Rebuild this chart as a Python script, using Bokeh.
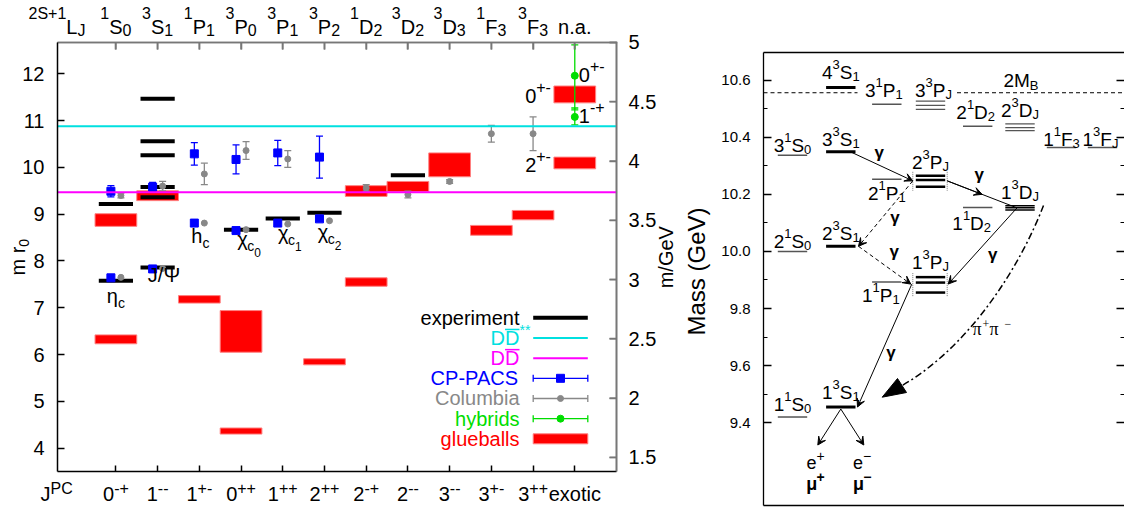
import math
from bokeh.plotting import figure
from bokeh.models import (Range1d, LinearAxis, FixedTicker, ColumnDataSource, LabelSet,
                          Arrow, VeeHead, NumeralTickFormatter, PrintfTickFormatter)
from bokeh.layouts import row
from bokeh.embed import file_html
from bokeh.resources import INLINE

FONT = "Liberation Sans"
SERIF = "Liberation Serif"

# ---------------------------------------------------------------------------
# Left panel data: charmonium / glueball spectrum (m r0)
# ---------------------------------------------------------------------------
top_labels = ["^1S_0", "^3S_1", "^1P_1", "^3P_0", "^3P_1", "^3P_2",
              "^1D_2", "^3D_2", "^3D_3", "^1F_3", "^3F_3", "n.a."]
jpc_labels = ["0^{-+}", "1^{--}", "1^{+-}", "0^{++}", "1^{++}", "2^{++}",
              "2^{-+}", "2^{--}", "3^{--}", "3^{+-}", "3^{++}", "exotic"]
mr0_ticks = [4, 5, 6, 7, 8, 9, 10, 11, 12]
gev_ticks = [1.5, 2, 2.5, 3, 3.5, 4, 4.5, 5]
gev_per_r0 = 0.3946            # 1/r0 for r0 = 0.5 fm

dd_star_thr = 10.88
dd_thr = 9.47

exp_pos = [1, 1, 2, 2, 2, 2, 2, 2, 4, 5, 6, 8]
exp_val = [7.58, 9.22, 7.86, 9.36, 9.58, 10.26, 10.56, 11.47, 8.67, 8.91, 9.03, 9.83]

cp_pos = [1, 1, 2, 2, 3, 3, 4, 4, 5, 5, 6, 6]
cp_val = [7.64, 9.49, 7.83, 9.58, 8.81, 10.29, 8.65, 10.17, 8.81, 10.31, 8.90, 10.22]
cp_err = [0.0, 0.12, 0.0, 0.10, 0.0, 0.24, 0.0, 0.31, 0.0, 0.27, 0.0, 0.45]

col_pos = [1, 1, 2, 2, 3, 3, 4, 4, 5, 5, 6, 7, 8, 9, 10, 11]
col_val = [7.65, 9.40, 7.84, 9.60, 8.81, 9.86, 8.67, 10.36, 8.79, 10.18, 8.86, 9.56, 9.42, 9.70, 10.72, 10.72]
col_err = [0.0, 0.05, 0.0, 0.10, 0.0, 0.23, 0.0, 0.19, 0.0, 0.18, 0.0, 0.07, 0.07, 0.04, 0.18, 0.36]

hyb_pos = [12, 12]
hyb_val = [11.96, 11.08]
hyb_up = [0.66, 0.19]
hyb_dn = [0.73, 0.17]
hyb_lab = ["0^{+-}", "1^{-+}"]

glue_pos = [1, 1, 2, 3, 4, 4, 6, 7, 7, 8, 9, 10, 11, 12, 12]
glue_lo = [8.74, 6.23, 9.29, 7.10, 6.05, 4.30, 5.78, 9.38, 7.46, 9.48, 9.80, 8.55, 8.88, 11.38, 9.97]
glue_hi = [9.01, 6.42, 9.50, 7.26, 6.94, 4.43, 5.91, 9.61, 7.64, 9.70, 10.31, 8.76, 9.08, 11.74, 10.22]
glue_exotic_lab = ["0^{+-}", "2^{+-}"]

meson_lab = ["η_c", "J/Ψ", "h_c", "χ_c~0", "χ_c~1", "χ_c~2"]
meson_pos = [1, 2, 3, 4, 5, 6]
meson_ref = [7.58, 7.86, 8.81, 8.67, 8.91, 9.03]

legend_labels = ["experiment", "DD^{**}", "DD", "CP-PACS", "Columbia", "hybrids", "glueballs"]
legend_colors = ["black", "#00e0e0", "#ff00ff", "#0000ff", "#888888", "#00dd00", "#ff0000"]

# ---------------------------------------------------------------------------
# Right panel data: bottomonium levels (GeV)
# ---------------------------------------------------------------------------
states = ["1^1S_0", "2^1S_0", "3^1S_0", "1^3S_1", "2^3S_1", "3^3S_1", "4^3S_1",
          "1^1P_1", "2^1P_1", "3^1P_1", "1^3P_J", "2^3P_J", "3^3P_J",
          "1^1D_2", "2^1D_2", "1^3D_J", "2^3D_J", "1^1F_3", "1^3F_J"]
masses = [[9.42], [10.00], [10.337], [9.455], [10.018], [10.349], [10.574],
          [9.893], [10.253], [10.516], [9.910, 9.891, 9.856], [10.265, 10.250, 10.227],
          [10.527, 10.512, 10.498], [10.154], [10.439], [10.160, 10.153, 10.145],
          [10.447, 10.434, 10.423], [10.364], [10.364]]
observed = [0, 0, 0, 1, 1, 1, 1, 0, 0, 0, 1, 1, 0, 0, 0, 1, 0, 0, 0]
mass_ticks = [9.4, 9.6, 9.8, 10.0, 10.2, 10.4, 10.6]
mass_minor = [9.5, 9.7, 9.9, 10.1, 10.3, 10.5]
two_mb = 10.556

# ---------------------------------------------------------------------------
# rich-text helpers (Arial / Liberation Sans advance widths, 1/1000 em)
# ---------------------------------------------------------------------------
AW = {c: 556 for c in "0123456789"}
AW.update(dict(zip("abcdefghijklmnopqrstuvwxyz",
                   [556, 556, 500, 556, 556, 278, 556, 556, 222, 222, 500, 222, 833,
                    556, 556, 556, 556, 333, 500, 278, 556, 500, 722, 500, 500, 500])))
AW.update(dict(zip("ABCDEFGHIJKLMNOPQRSTUVWXYZ",
                   [667, 667, 722, 722, 667, 611, 778, 722, 278, 500, 667, 556, 833,
                    722, 778, 667, 778, 722, 667, 611, 722, 667, 944, 667, 667, 611])))
AW.update({"+": 584, "-": 333, "\u2212": 584, ".": 278, " ": 278, "/": 278, "*": 389,
           "(": 333, ")": 333, "η": 556, "Ψ": 800, "χ": 500, "γ": 500, "π": 560, "μ": 576})


def tw(s, fs):
    return sum(AW.get(ch, 556) for ch in s) * fs / 1000.0


def parse(s):
    segs, buf, i = [], "", 0
    while i < len(s):
        ch = s[i]
        if ch in "^_~":
            if buf:
                segs.append((buf, "n"))
                buf = ""
            kind = {"^": "u", "_": "d", "~": "dd"}[ch]
            if s[i + 1] == "{":
                j = s.index("}", i)
                segs.append((s[i + 2:j], kind))
                i = j + 1
            else:
                segs.append((s[i + 1], kind))
                i += 2
        else:
            buf += ch
            i += 1
    if buf:
        segs.append((buf, "n"))
    return segs


def new_T():
    return {k: [] for k in ("x", "y", "xo", "yo", "text", "size", "color", "style", "font", "angle")}


def rich(T, s, x, y, fs, sfs, up, down, align="center", dx=0.0, dy=0.0, color="black",
         style="normal", font=FONT, angle=0.0, hang=False):
    segs = parse(s)
    sizes = [fs if k == "n" else (sfs if k in ("u", "d") else sfs * 0.85) for _, k in segs]
    ws = [tw(t, z) for (t, _), z in zip(segs, sizes)]
    total = ws[0] if hang else sum(ws)
    cum = {"center": -total / 2.0, "left": 0.0, "right": -total}[align]
    for (t, k), z, w in zip(segs, sizes, ws):
        shift = {"n": 0.0, "u": up, "d": -down, "dd": -down * 2.2}[k]
        if angle:
            xo, yo = dx - shift, dy + cum
        else:
            xo, yo = dx + cum, dy + shift
        T["x"].append(x); T["y"].append(y); T["xo"].append(xo); T["yo"].append(yo)
        T["text"].append(t); T["size"].append("%.1fpx" % z); T["color"].append(color)
        T["style"].append(style); T["font"].append(font); T["angle"].append(angle)
        cum += w


def add_labels(fig, T):
    fig.add_layout(LabelSet(x="x", y="y", x_offset="xo", y_offset="yo", text="text",
                            source=ColumnDataSource(T), text_font_size="size",
                            text_color="color", text_font_style="style", text_font="font",
                            angle="angle", text_align="left", text_baseline="alphabetic"))


def style_axis(ax, color, tick_in, font_size="20px", standoff=12, lw=1.5):
    ax.axis_line_color = color
    ax.axis_line_width = lw
    ax.major_tick_line_color = color
    ax.major_tick_line_width = lw
    ax.major_tick_in = tick_in
    ax.major_tick_out = 0
    ax.minor_tick_in = 0
    ax.minor_tick_out = 0
    ax.major_label_text_font = FONT
    ax.major_label_text_font_size = font_size
    ax.major_label_text_color = "black"
    ax.major_label_standoff = standoff


def bare_fig(w, h, xr, yr):
    f = figure(width=w, height=h, x_range=Range1d(*xr), y_range=Range1d(*yr),
               output_backend="svg", toolbar_location=None, title=None,
               min_border_left=0, min_border_right=0, min_border_top=0, min_border_bottom=0)
    f.grid.visible = False
    f.outline_line_color = None
    return f


# ---------------------------------------------------------------------------
# Left figure  (frame fills the canvas; axes sit at fixed locations)
# ---------------------------------------------------------------------------
X0, X1 = -0.4, 13.0
Y0, Y1 = 3.5, 12.67
FL, FR, FT, FB = 57, 616, 42, 471          # axis box in page pixels
PXX = (X1 - X0) / (FR - FL)
PXY = (Y1 - Y0) / (FB - FT)


def lx(px):
    return X0 + (px - FL) * PXX


def ly(py):
    return Y0 + (FB - py) * PXY


p = bare_fig(680, 508, (lx(0), lx(680)), (ly(508), ly(0)))
p.extra_y_ranges = {"gev": Range1d(ly(508) * gev_per_r0, ly(0) * gev_per_r0)}

GRAY_AX = "#777777"
cat_ticks = list(range(1, len(jpc_labels) + 1))

ax_l = p.yaxis[0]
ax_l.ticker = FixedTicker(ticks=mr0_ticks)
ax_l.fixed_location = X0
ax_l.bounds = (Y0, Y1)
style_axis(ax_l, "black", 7, standoff=13)
ax_b = p.xaxis[0]
ax_b.ticker = FixedTicker(ticks=cat_ticks)
ax_b.formatter = PrintfTickFormatter(format="")
ax_b.fixed_location = Y0
ax_b.bounds = (X0, X1)
style_axis(ax_b, "black", 6, font_size="0px", standoff=0)

ax_top = LinearAxis(ticker=FixedTicker(ticks=cat_ticks), formatter=PrintfTickFormatter(format=""),
                    fixed_location=Y1, bounds=(X0, X1))
style_axis(ax_top, GRAY_AX, 7, font_size="0px", standoff=0, lw=1.6)
p.add_layout(ax_top, "above")
ax_right = LinearAxis(y_range_name="gev", ticker=FixedTicker(ticks=gev_ticks),
                      formatter=PrintfTickFormatter(format="%g"), fixed_location=X1,
                      bounds=(Y0 * gev_per_r0, Y1 * gev_per_r0))
style_axis(ax_right, GRAY_AX, 7, standoff=12, lw=1.6)
p.add_layout(ax_right, "right")

# gray top / right edges and their inward ticks, also as thin filled bars
hx, hy = 0.8 * PXX, 0.8 * PXY
gev_in_mr0 = [t / gev_per_r0 for t in gev_ticks]
edge_l = [X0, X1 - hx] + [t - hx for t in cat_ticks] + [X1 - 7 * PXX] * len(gev_ticks)
edge_r = [X1 + hx, X1 + hx] + [t + hx for t in cat_ticks] + [X1] * len(gev_ticks)
edge_b = [Y1 - hy, Y0] + [Y1 - 7 * PXY] * len(cat_ticks) + [v - hy for v in gev_in_mr0]
edge_t = [Y1 + hy, Y1 + hy] + [Y1] * len(cat_ticks) + [v + hy for v in gev_in_mr0]
p.quad(left=edge_l, right=edge_r, bottom=edge_b, top=edge_t, fill_color=GRAY_AX,
       line_color=None)

# glueballs
p.quad(left=[x - 0.5 for x in glue_pos], right=[x + 0.5 for x in glue_pos],
       bottom=glue_lo, top=glue_hi, fill_color="#ff0000", line_color="#ff8080", line_width=1)
# experiment
p.segment(x0=[x - 0.41 for x in exp_pos], x1=[x + 0.41 for x in exp_pos],
          y0=exp_val, y1=exp_val, line_color="black", line_width=4)


def errorbars(fig, xs, ys, up, dn, color, lw=1.3):
    cap = 3.5 * PXX
    sel = [(x, y, u, d) for x, y, u, d in zip(xs, ys, up, dn) if u > 0 or d > 0]
    X = [s[0] for s in sel]
    top = [s[1] + s[2] for s in sel]
    bot = [s[1] - s[3] for s in sel]
    fig.segment(x0=X, x1=X, y0=bot, y1=top, line_color=color, line_width=lw)
    fig.segment(x0=[x - cap for x in X], x1=[x + cap for x in X], y0=top, y1=top,
                line_color=color, line_width=lw)
    fig.segment(x0=[x - cap for x in X], x1=[x + cap for x in X], y0=bot, y1=bot,
                line_color=color, line_width=lw)


shift = 0.12
col_x = [x + shift if x in cp_pos else x for x in col_pos]
cp_x = [x - shift for x in cp_pos]
errorbars(p, col_x, col_val, col_err, col_err, "#888888")
p.scatter(col_x, col_val, marker="circle", size=6, color="#888888")
errorbars(p, cp_x, cp_val, cp_err, cp_err, "#0000ff")
p.scatter(cp_x, cp_val, marker="square", size=8, color="#0000ff")
errorbars(p, hyb_pos, hyb_val, hyb_up, hyb_dn, "#00dd00")
p.scatter(hyb_pos, hyb_val, marker="circle", size=7, color="#00dd00")

# two-meson thresholds across the axis box
p.segment(x0=[X0, X0], x1=[X1, X1], y0=[dd_star_thr, dd_thr], y1=[dd_star_thr, dd_thr],
          line_color=["#00e0e0", "#ff00ff"], line_width=2)

TL = new_T()
for i, s in enumerate(top_labels):
    rich(TL, s, i + 1, ly(33.5), 20, 16, 15, 2)
rich(TL, "^{2S+1}L_J", lx(28), ly(33.5), 20, 16, 15, 2, align="left")
for i, s in enumerate(jpc_labels):
    rich(TL, s, i + 1, ly(500.5), 20, 16, 7.5, 2)
rich(TL, "J^{PC}", lx(40), ly(500.5), 20, 16, 7.5, 2, align="left")

lab_drop = [22, 14, 20, 16, 22, 26]
lab_dx = [0, 6, 1, 8, 7, 5]
for s, x, y, d, dx in zip(meson_lab, meson_pos, meson_ref, lab_drop, lab_dx):
    rich(TL, s, x + dx * PXX, y, 20, 14, 8, 5, dy=-d)

for s, x, y in zip(hyb_lab, hyb_pos, hyb_val):
    rich(TL, s, x + 4 * PXX, y, 20, 16, 10, 2, align="left", dy=-6)
exo = [(x, lo, hi) for x, lo, hi in zip(glue_pos, glue_lo, glue_hi) if x == len(jpc_labels)]
for s, (x, lo, hi) in zip(glue_exotic_lab, exo):
    rich(TL, s, x - 0.5 - 3 * PXX, (lo + hi) / 2.0, 20, 16, 10, 2, align="right", dy=-9)

# legend (drawn by hand: labels sit left of the samples)
leg_xr = lx(519)
leg_s0, leg_s1, leg_sc = lx(532.7), lx(587.3), lx(560)
for k, (lab, colr) in enumerate(zip(legend_labels, legend_colors)):
    yk = ly(317.3 + 20.17 * k)
    rich(TL, lab, leg_xr, yk, 20, 14, 10, 0, align="right", dy=-7, color=colr, hang=True)
    if lab.startswith("DD"):
        wD = tw("D", 20) * PXX
        p.segment(x0=[leg_xr - wD], x1=[leg_xr], y0=[yk + 8.5 * PXY], y1=[yk + 8.5 * PXY],
                  line_color=colr, line_width=1.5)
    if k <= 2:
        p.segment(x0=[leg_s0], x1=[leg_s1], y0=[yk], y1=[yk], line_color=colr,
                  line_width=4 if k == 0 else 2)
    elif k <= 5:
        p.segment(x0=[leg_s0], x1=[leg_s1], y0=[yk], y1=[yk], line_color=colr, line_width=1.3)
        p.segment(x0=[leg_s0, leg_s1], x1=[leg_s0, leg_s1], y0=[yk - 3.5 * PXY] * 2,
                  y1=[yk + 3.5 * PXY] * 2, line_color=colr, line_width=1.3)
        p.scatter([leg_sc], [yk], marker="square" if k == 3 else "circle",
                  size=8 if k == 3 else (6 if k == 4 else 7), color=colr)
    else:
        p.quad(left=[leg_s0], right=[leg_s1], bottom=[yk - 5 * PXY], top=[yk + 5 * PXY],
               fill_color=colr, line_color="#ff8080", line_width=1)

rich(TL, "m r_0", lx(25), ly(256.7), 20, 14, 0, 4, angle=math.pi / 2)
rich(TL, "m/GeV", lx(673), ly(256.7), 20, 14, 0, 0, angle=math.pi / 2)
add_labels(p, TL)

# ---------------------------------------------------------------------------
# Right figure: bottomonium level scheme
# ---------------------------------------------------------------------------
GL, GR, GT, GB = 763, 1124, 52, 505          # axis box in page pixels
RX0, RX1 = 0.0, float(GR - GL)
RY0, RY1 = 9.11, 10.697
QX = (RX1 - RX0) / (GR - GL)
QY = (RY1 - RY0) / (GB - GT)


def rx(px):
    return RX0 + (px - GL) * QX


def ry(py):
    return RY1 - (py - GT) * QY


q = bare_fig(444, 508, (rx(680), rx(1124)), (ry(508), ry(0)))

qa_l = q.yaxis[0]
qa_l.ticker = FixedTicker(ticks=mass_ticks, minor_ticks=mass_minor)
qa_l.formatter = NumeralTickFormatter(format="0.0")
qa_l.fixed_location = RX0
qa_l.bounds = (RY0, RY1)
style_axis(qa_l, "black", 8, font_size="15px", standoff=13, lw=1.3)
qa_l.minor_tick_in = 4
qa_l.minor_tick_line_color = "black"
qa_b = q.xaxis[0]
qa_b.ticker = FixedTicker(ticks=[])
qa_b.formatter = PrintfTickFormatter(format="")
qa_b.fixed_location = RY0
qa_b.bounds = (RX0, RX1)
style_axis(qa_b, "black", 0, font_size="0px", standoff=0, lw=1.3)
qa_t = LinearAxis(ticker=FixedTicker(ticks=[]), formatter=PrintfTickFormatter(format=""),
                  fixed_location=RY1, bounds=(RX0, RX1))
style_axis(qa_t, "black", 0, font_size="0px", standoff=0, lw=1.3)
q.add_layout(qa_t, "above")
qa_r = LinearAxis(ticker=FixedTicker(ticks=mass_ticks, minor_ticks=mass_minor),
                  formatter=PrintfTickFormatter(format=""), fixed_location=RX1,
                  bounds=(RY0, RY1))
style_axis(qa_r, "black", 8, font_size="0px", standoff=0, lw=1.3)
qa_r.axis_line_color = None
qa_r.minor_tick_in = 4
qa_r.minor_tick_line_color = "black"
q.add_layout(qa_r, "right")

col_px = [792, 840.3, 886.3, 930, 977.2, 1019.5, 1061, 1102]
half_w = 14.7
cc = [rx(v) for v in col_px]


def col_of(name):
    return 2 * "SPDF".index(name[3]) + (0 if name[2] == "1" else 1)


lev = {"x0": [], "x1": [], "y": [], "w": [], "c": []}
for name, ms, obs in zip(states, masses, observed):
    c = cc[col_of(name)]
    sp = min(abs(a - b) for a, b in zip(ms, ms[1:])) / QY if len(ms) > 1 else None
    for m in ms:
        if obs:
            w = 3.0 if sp is None else min(2.5, 0.7 * sp)
        else:
            w = 1.5 if sp is None else min(1.2, 0.5 * sp)
        lev["x0"].append(c - half_w); lev["x1"].append(c + half_w); lev["y"].append(m)
        lev["w"].append(w); lev["c"].append("black" if obs else "#555555")
q.segment(x0="x0", x1="x1", y0="y", y1="y", line_width="w", line_color="c",
          source=ColumnDataSource(lev))

M = {n: ms for n, ms in zip(states, masses)}


def mid(n):
    return sum(M[n]) / len(M[n])


# 2 M_B threshold (dashed, interrupted by labels)
q.segment(x0=[RX0, cc[4] - half_w - 6], x1=[cc[1] + half_w + 2, RX1], y0=[two_mb] * 2,
          y1=[two_mb] * 2, line_color="black", line_width=1, line_dash="4 3")

# dotted connectors at the P-wave multiplets
for n in ("2^3P_J", "1^3P_J"):
    for xe in (cc[3] - half_w - 3, cc[3] + half_w + 2):
        q.segment(x0=[xe], x1=[xe], y0=[max(M[n]) + 4 * QY], y1=[min(M[n]) - 4 * QY],
                  line_color="#777777", line_width=1, line_dash="1 1")


def arrow(x0, y0, x1, y1, dash="solid", head=True, size=8):
    q.add_layout(Arrow(end=VeeHead(size=size, fill_color="black", line_color="black",
                                   line_width=1) if head else None,
                       x_start=x0, y_start=y0, x_end=x1, y_end=y1,
                       line_color="black", line_width=1, line_dash=dash))


c2r, c4l, c4r = cc[1] + half_w, cc[3] - half_w, cc[3] + half_w
arrow(c2r - 5, M["3^3S_1"][0], c4l - 3, mid("2^3P_J"))
x_a, y_a, x_b, y_b = c4r + 2, mid("2^3P_J"), cc[5] - 3, mid("1^3D_J")
arrow(x_a, y_a, x_b, y_b, head=False)
arrow(x_a, y_a, (x_a + x_b) / 2, (y_a + y_b) / 2)
arrow(c4l - 3, mid("2^3P_J"), c2r + 3, M["2^3S_1"][0], dash="4 3")
arrow(c2r + 3, M["2^3S_1"][0], c4l - 5, mid("1^3P_J"), dash="4 3")
arrow(cc[5] - 3, mid("1^3D_J"), c4r + 3, mid("1^3P_J"))
arrow(c4l - 4, mid("1^3P_J"), c2r + 2, M["1^3S_1"][0])
arrow(cc[1], M["1^3S_1"][0] - 2 * QY, cc[1] - 23, M["1^3S_1"][0] - 38 * QY)
arrow(cc[1], M["1^3S_1"][0] - 2 * QY, cc[1] + 23, M["1^3S_1"][0] - 38 * QY)

# pi+ pi- transition (dash-dot curve with a large head)
q.bezier(x0=[rx(1043)], y0=[ry(205)], x1=[rx(900)], y1=[ry(386)],
         cx0=[rx(1020)], cy0=[ry(265)], cx1=[rx(970)], cy1=[ry(346)],
         line_color="black", line_width=1.5, line_dash="7 3 2 3")
q.patch(x=[rx(881.7), rx(897), rx(906)], y=[ry(396.7), ry(378), ry(392)],
        fill_color="black", line_color="black", line_width=1)

TR = new_T()
label_gap = {"1^1S_0": 6, "2^1S_0": 3, "3^1S_0": 3, "1^3S_1": 8, "2^3S_1": 6, "3^3S_1": 6,
             "4^3S_1": 9, "3^1P_1": 7, "1^3P_J": 8, "2^3P_J": 7, "3^3P_J": 4, "2^1D_2": 7,
             "1^3D_J": 7, "2^3D_J": 7, "1^1F_3": 2, "1^3F_J": 2}
label_below = {"2^1P_1": 21, "1^1P_1": 20, "1^1D_2": 23}
label_dx = {"1^1P_1": -6, "1^1D_2": -6, "3^1P_1": -3, "3^3P_J": 3, "2^1D_2": -2, "1^3F_J": -2}
for name, ms in zip(states, masses):
    c = cc[col_of(name)] + label_dx.get(name, 0)
    if name in label_below:
        rich(TR, name, c, min(ms), 19, 13, 10, 2, dy=-label_below[name])
    else:
        rich(TR, name, c, max(ms), 19, 13, 10, 2, dy=label_gap.get(name, 6))
rich(TR, "2M_B", rx(1020.5), two_mb, 19, 13, 10, 3, dy=5.7)

for gx, gy in [(878.3, 155), (978.3, 176.7), (894, 220), (893.3, 254), (991.7, 256.7), (890, 355)]:
    rich(TR, "γ", rx(gx), ry(gy), 17, 12, 0, 0, dy=-2.7, style="bold")
rich(TR, "π^+ π^\u2212", rx(991.5), ry(330), 18, 12, 7, 0, dy=-4, font=SERIF)
for lab, gx, gy, st in [("e^+", 815, 468, "normal"), ("e^\u2212", 861.7, 468, "normal"),
                        ("μ^+", 815, 489, "bold"), ("μ^\u2212", 861.7, 489, "bold")]:
    rich(TR, lab, rx(gx), ry(gy), 18, 14, 8, 0, style=st)
rich(TR, "Mass (GeV)", rx(705), ry(271), 24, 16, 0, 0, angle=math.pi / 2)
add_labels(q, TR)

layout = row(p, q)
open("out.html", "w").write(file_html(layout, INLINE))
